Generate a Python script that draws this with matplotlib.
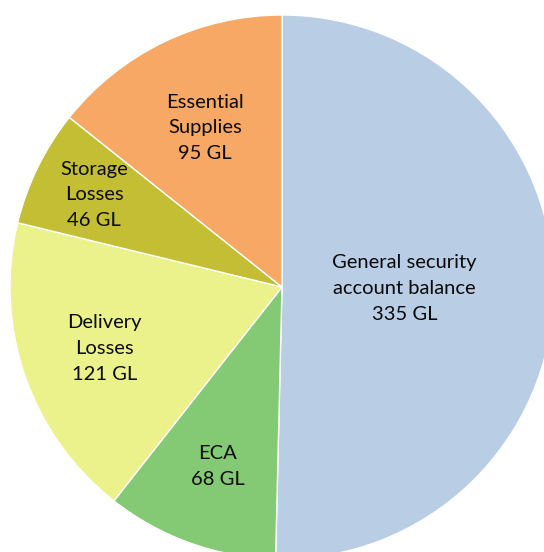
import matplotlib
matplotlib.use("Agg")
import matplotlib.pyplot as plt
import numpy as np

categories = ["General security\naccount balance", "ECA", "Delivery\nLosses", "Storage\nLosses", "Essential\nSupplies"]
values = [335, 68, 121, 46, 95]
unit = "GL"

colors = ["#B9CDE5", "#84C973", "#EBF18B", "#C3BE33", "#F7A864"]
label_dist = [0.45, 0.70, 0.69, 0.77, 0.65]

fig = plt.figure(figsize=(5.44, 5.52), dpi=100)
ax = fig.add_axes([0, 0, 1, 1])
R = 272.0
cx, cy = 282.0, 287.0
W, H = 544.0, 552.0

wedges, _ = ax.pie(values, colors=colors, startangle=90, counterclock=False,
                   radius=1.0, wedgeprops=dict(edgecolor="white", linewidth=1.0))

for w, cat, v, d in zip(wedges, categories, values, label_dist):
    ang = np.deg2rad((w.theta1 + w.theta2) / 2.0)
    x, y = d * np.cos(ang), d * np.sin(ang)
    ax.text(x, y, f"{cat}\n{v} {unit}", ha="center", va="center",
            fontsize=14.5, family=["Lato", "DejaVu Sans"], color="#0a0a0a",
            linespacing=1.62)

ax.set_xlim(-cx / R, (W - cx) / R)
ax.set_ylim(-(H - cy) / R, cy / R)
ax.set_aspect("auto")
ax.axis("off")
fig.savefig("out.png", dpi=100)
